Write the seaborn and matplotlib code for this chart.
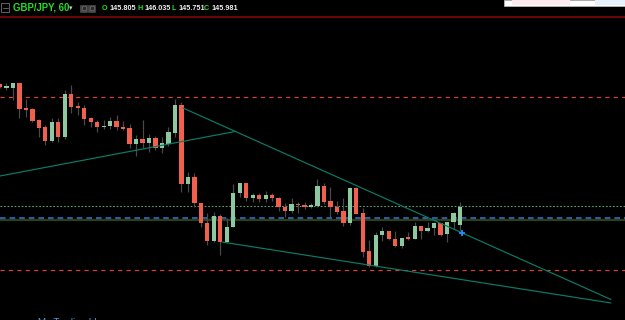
import numpy as np
import pandas as pd
import matplotlib
matplotlib.use("Agg")
import matplotlib.pyplot as plt
from matplotlib.patches import Rectangle
import seaborn as sns

# ---------------- data (GBP/JPY, 60 min) ----------------
opens = [147.21, 147.175, 147.17, 147.22, 146.97, 146.96, 146.85, 146.78, 146.64, 146.83,
         146.68, 147.11, 146.99, 146.97, 146.87, 146.83, 146.78, 146.79, 146.84, 146.78,
         146.77, 146.61, 146.66, 146.62, 146.67, 146.57, 146.61, 146.72, 147.00, 146.21,
         146.28, 146.02, 145.82, 145.64, 145.89, 145.63, 145.78, 146.12, 146.22, 146.07,
         146.10, 146.06, 146.10, 146.07, 145.98, 145.94, 146.01, 146.00, 145.985, 145.99,
         146.19, 146.04, 145.98, 145.94, 145.82, 146.17, 145.92, 145.54, 145.39, 145.70,
         145.74, 145.66, 145.59, 145.68, 145.66, 145.79, 145.74, 145.77, 145.82, 145.71,
         145.83, 145.805]
highs = [147.22, 147.22, 147.22, 147.22, 147.06, 146.97, 146.86, 146.80, 146.87, 146.87,
         147.15, 147.20, 147.03, 147.00, 146.88, 146.85, 146.85, 146.88, 146.90, 146.84,
         146.81, 146.70, 146.85, 146.71, 146.69, 146.68, 146.78, 147.06, 147.03, 146.33,
         146.32, 146.02, 145.92, 145.93, 145.91, 145.87, 146.21, 146.22, 146.22, 146.12,
         146.12, 146.14, 146.12, 146.08, 146.02, 146.07, 146.03, 146.03, 146.02, 146.26,
         146.22, 146.18, 146.04, 146.07, 146.18, 146.18, 145.97, 145.65, 145.73, 145.78,
         145.74, 145.74, 145.67, 145.73, 145.83, 145.79, 145.83, 145.83, 145.82, 145.83,
         145.93, 146.035]
lows = [147.17, 147.15, 147.05, 146.87, 146.88, 146.83, 146.68, 146.60, 146.63, 146.63,
        146.66, 146.92, 146.90, 146.80, 146.78, 146.73, 146.76, 146.76, 146.75, 146.75,
        146.57, 146.49, 146.57, 146.53, 146.55, 146.52, 146.59, 146.68, 146.13, 146.13,
        145.98, 145.78, 145.60, 145.63, 145.50, 145.62, 145.78, 146.08, 146.04, 146.03,
        146.03, 146.03, 146.04, 145.94, 145.88, 145.92, 145.92, 145.96, 145.97, 145.98,
        146.01, 145.88, 145.91, 145.79, 145.80, 145.91, 145.48, 145.38, 145.38, 145.64,
        145.65, 145.58, 145.57, 145.65, 145.66, 145.66, 145.73, 145.70, 145.69, 145.63,
        145.76, 145.751]
closes = [147.18, 147.18, 147.22, 146.96, 146.95, 146.84, 146.77, 146.64, 146.83, 146.68,
          147.11, 146.98, 146.97, 146.86, 146.83, 146.78, 146.795, 146.84, 146.78, 146.76,
          146.61, 146.66, 146.62, 146.67, 146.57, 146.62, 146.73, 147.00, 146.21, 146.28,
          146.02, 145.82, 145.64, 145.89, 145.63, 145.78, 146.12, 146.22, 146.07, 146.10,
          146.06, 146.10, 146.07, 145.98, 145.94, 146.01, 146.00, 145.98, 145.99, 146.19,
          146.03, 145.98, 145.93, 145.82, 146.17, 145.91, 145.53, 145.39, 145.70, 145.74,
          145.66, 145.59, 145.67, 145.66, 145.79, 145.74, 145.77, 145.82, 145.70, 145.83,
          145.92, 145.981]

# horizontal levels
resistance_level = 147.08
support_level = 145.35
dotted_level = 145.99
blue_level = 145.867
olive_level = 145.847

# trend lines (bar index, price)
trend_a_x = [0.0, 36.27]
trend_a_y = [146.29, 146.735]
trend_b_x = [28.24, 94.30]
trend_b_y = [146.97, 145.055]
trend_c_x = [34.26, 94.30]
trend_c_y = [145.63, 145.02]
marker_x = [71.3]
marker_y = [145.72]

header_symbol = "GBP/JPY, 60"
ohlc_labels = ["O", "H", "L", "C"]
ohlc_values = ["145.805", "146.035", "145.751", "145.981"]

# ---------------- figure ----------------
sns.set_style("dark")
plt.rcParams['font.family'] = ['Liberation Sans', 'DejaVu Sans']

W, H = 625, 320
fig = plt.figure(figsize=(W / 100, H / 100), dpi=100, facecolor="black")
ax = fig.add_axes([0, 0, 1, 1])
ax.set_facecolor("black")
for s in ax.spines.values():
    s.set_visible(False)
ax.set_xticks([])
ax.set_yticks([])

px = 1 / 100 * 72  # one pixel in points

df = pd.DataFrame({"o": opens, "h": highs, "l": lows, "c": closes})
df["i"] = np.arange(len(df))
up = df["c"] >= df["o"]
red = "#f0604c"
green = "#8cc9a0"

# wicks
ax.vlines(df["i"], df["l"], df["h"], color="#4a4a4a", lw=1.2 * px, zorder=2)
# bodies
bottom = np.minimum(df["o"], df["c"])
height = np.maximum(np.abs(df["c"] - df["o"]), 0.012)
ax.bar(df["i"][up], height[up], bottom=bottom[up], width=0.66, color=green,
       edgecolor="none", zorder=3)
ax.bar(df["i"][~up], height[~up], bottom=bottom[~up], width=0.66, color=red,
       edgecolor="none", zorder=3)

# horizontal levels
ax.axhline(resistance_level, color="#d8403c", lw=1.2 * px, dashes=(3.5, 3.5), zorder=1)
ax.axhline(support_level, color="#d8403c", lw=1.2 * px, dashes=(3.5, 3.5), zorder=1)
ax.axhline(dotted_level, color="#5f9a72", lw=1.1 * px, dashes=(1.6, 1.6), zorder=1)
ax.axhline(olive_level, color="#2f3f14", lw=2.2 * px, zorder=1)
ax.axhline(blue_level, color="#2f72d6", lw=1.6 * px, dashes=(3.5, 2.5), zorder=1)

# trend lines via seaborn
teal = "#0c7a66"
for tx, ty in [(trend_a_x, trend_a_y), (trend_b_x, trend_b_y), (trend_c_x, trend_c_y)]:
    sns.lineplot(x=tx, y=ty, ax=ax, color=teal, lw=1.2 * px, estimator=None,
                 sort=False, zorder=4)
ax.plot(marker_x, marker_y, marker="+", color="#2090ff", ms=5, mew=1.3, zorder=5)

ax.set_xlim(0, W / 6.479)
ax.set_ylim(148.05 - H / 100, 148.05)

# ---------------- header ----------------
T = ax.transAxes
def fy(p):
    return 1 - p / H
def fx(p):
    return p / W

ax.plot([0, 1], [fy(16.5), fy(16.5)], transform=T, color="#6b0606", lw=2 * px,
        clip_on=False, zorder=6)
# left collapse icon
ax.add_patch(Rectangle((fx(1.5), fy(11.5)), fx(7), 8 / H, transform=T, fill=False,
                       edgecolor="#777777", lw=0.8 * px, zorder=6))
ax.plot([fx(3), fx(7.5)], [fy(7.5), fy(7.5)], transform=T, color="#777777", lw=0.8 * px, zorder=6)
ax.text(fx(13), fy(8), header_symbol, transform=T, color="#22e022", fontsize=6.9,
        fontweight="bold", va="center", ha="left", zorder=7)
ax.text(fx(71), fy(8), "▾", transform=T, color="#cccccc", fontsize=5,
        va="center", ha="center", family=["DejaVu Sans"], zorder=7)
for xx in (80, 88):
    ax.add_patch(Rectangle((fx(xx), fy(11.5)), fx(7), 7 / H, transform=T,
                           facecolor="#4a4a4a", edgecolor="#5a5a5a", lw=0.5 * px, zorder=6))
    ax.plot([fx(xx + 3.5)], [fy(8)], transform=T, marker="o", ms=3.2, mfc="#2a2a2a",
            mec="#6a6a6a", mew=0.5, zorder=7)
label_x = [102, 137, 171, 204]
for lab, val, lx in zip(ohlc_labels, ohlc_values, label_x):
    ax.text(fx(lx), fy(8), lab, transform=T, color="#22e022", fontsize=5.2,
            fontweight="bold", va="center", ha="left", zorder=7)
    ax.text(fx(lx + 7.5), fy(8), val, transform=T, color="#f0f0f0", fontsize=5.2,
            fontweight="bold", va="center", ha="left", zorder=7)

# top-right cropped panel
ax.add_patch(Rectangle((fx(504), fy(5.5)), fx(121), 5.5 / H, transform=T,
                       facecolor="#ffffff", edgecolor="#b8b8b8", lw=0.8 * px, zorder=6,
                       clip_on=False))
ax.add_patch(Rectangle((fx(512), fy(5)), fx(58), 5 / H, transform=T,
                       facecolor="#fdecef", edgecolor="none", zorder=7))
ax.add_patch(Rectangle((fx(595), fy(5)), fx(30), 5 / H, transform=T,
                       facecolor="#e6f2fb", edgecolor="none", zorder=7))

# bottom cropped text
ax.text(fx(38), fy(317.5), "My Trading Ideas", transform=T, color="#4a9ad0",
        fontsize=7, va="top", ha="left", zorder=7)

fig.savefig("out.png", dpi=100, facecolor="black")
